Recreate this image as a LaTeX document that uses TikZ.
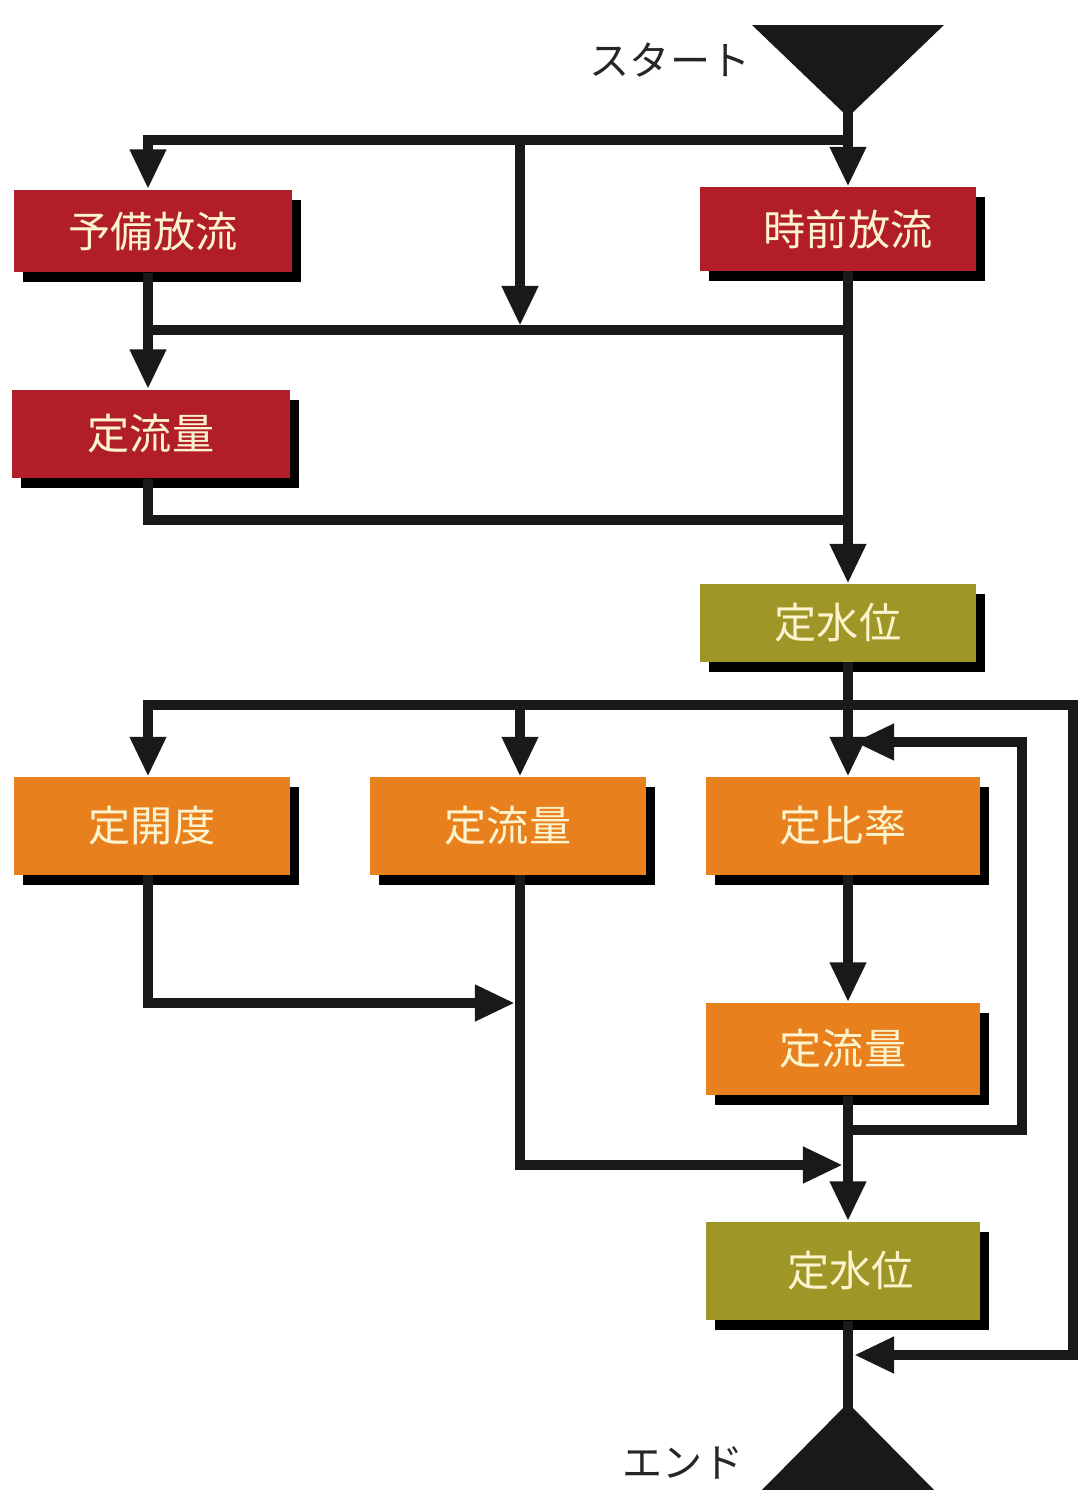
\documentclass[tikz,border=0pt]{standalone}
\usepackage{fontspec}
\newfontfamily\jp{Noto Sans CJK JP}
\usetikzlibrary{arrows.meta,shadows,calc}
\definecolor{boxred}{RGB}{178,30,40}
\definecolor{boxolive}{RGB}{158,150,38}
\definecolor{boxorange}{RGB}{232,128,30}
\definecolor{boxtext}{RGB}{252,244,206}
\tikzset{
  box/.style={rectangle, inner sep=0pt, minimum width=2.76cm, text=boxtext,
    font=\jp\fontsize{12}{14}\selectfont,
    drop shadow={shadow xshift=0.09cm, shadow yshift=-0.1cm, opacity=1, fill=black}},
  redbox/.style={box, fill=boxred},
  olivebox/.style={box, fill=boxolive},
  orangebox/.style={box, fill=boxorange},
  conn/.style={line width=0.1cm, draw=black!90},
  arr/.style={conn, -{Triangle[width=0.34cm,length=0.4cm]}},
  darr/.style={conn, {Triangle[width=0.34cm,length=0.4cm]}-{Triangle[width=0.34cm,length=0.4cm]}},
  lbl/.style={font=\jp\fontsize{11.4}{13}\selectfont, text=black!85}
}
\begin{document}
\begin{tikzpicture}[x=0.01cm,y=-0.01cm]
\useasboundingbox (0,0) rectangle (1078,1490);
\fill[white] (0,0) rectangle (1078,1490);

% column coordinates
\coordinate (cL) at (148,0);
\coordinate (cM) at (520,0);
\coordinate (cR) at (848,0);

% start / end triangles
\fill[black!90] (752,25) -- (944,25) -- (848,117) -- cycle;
\coordinate (start) at (848,110);
\fill[black!90] (848,1403) -- (760,1492) -- (936,1492) -- cycle;
\coordinate (endp) at (848,1410);
\node[lbl] (slbl) at (670,60) {スタート};
\node[lbl] (elbl) at (683,1463) {エンド};

% boxes
\node[redbox, minimum width=2.78cm, minimum height=0.82cm] (yb) at (153,231) {予備放流};
\node[redbox, minimum width=2.75cm, minimum height=0.83cm] (jz) at (838,229) {\hspace{0.2cm}時前放流};
\node[redbox, minimum width=2.78cm, minimum height=0.88cm] (tr) at (151,434) {定流量};
\node[olivebox, minimum width=2.75cm, minimum height=0.77cm] (sw1) at (838,623) {定水位};
\node[orangebox, minimum width=2.75cm, minimum height=0.97cm] (kd) at (152,826) {定開度};
\node[orangebox, minimum width=2.75cm, minimum height=0.97cm] (tm) at (508,826) {定流量};
\node[orangebox, minimum width=2.73cm, minimum height=0.97cm] (hr) at (843,826) {定比率};
\node[orangebox, minimum width=2.73cm, minimum height=0.92cm] (tf) at (843,1049) {定流量};
\node[olivebox, minimum width=2.74cm, minimum height=0.98cm] (sw2) at (843,1271) {\hspace{0.15cm}定水位};

% junction coordinates
\coordinate (t1) at (848,140);
\coordinate (t2) at (520,140);
\coordinate (m1) at (520,326);
\coordinate (b1) at (148,330);
\coordinate (b2) at (848,330);
\coordinate (b3) at (848,520);
\coordinate (b4) at (520,705);
\coordinate (r1) at (1073,705);
\coordinate (e1) at (854,1355);
\coordinate (r2) at (1022,1130);
\coordinate (e2) at (854,742);
\coordinate (e3) at (515,1003);
\coordinate (e4) at (843,1165);

% top part
\draw[arr] (start) -- (jz.north -| cR);
\draw[arr] (t1) -| (yb.north -| cL);
\draw[arr] (t2) -- (m1);
\draw[conn] (b1) -- (b2);
\draw[arr] (yb.south -| cL) -- (tr.north -| cL);
\draw[arr] (jz.south -| cR) -- (sw1.north -| cR);
\draw[conn] (tr.south -| cL) |- (b3);

% middle part
\draw[darr] (kd.north -| cL) |- (r1) |- (e1);
\draw[arr] (b4) -- (tm.north -| cM);
\draw[arr] (sw1.south -| cR) -- (hr.north -| cR);
\draw[arr] (hr.south -| cR) -- (tf.north -| cR);
\draw[arr] (tf.south -| cR) |- (r2) |- (e2);
\draw[arr] (kd.south -| cL) |- (e3);
\draw[arr] (tm.south -| cM) |- (e4);
\draw[arr] (tf.south -| cR) -- (sw2.north -| cR);
\draw[conn] (sw2.south -| cR) -- (endp);
\end{tikzpicture}
\end{document}
